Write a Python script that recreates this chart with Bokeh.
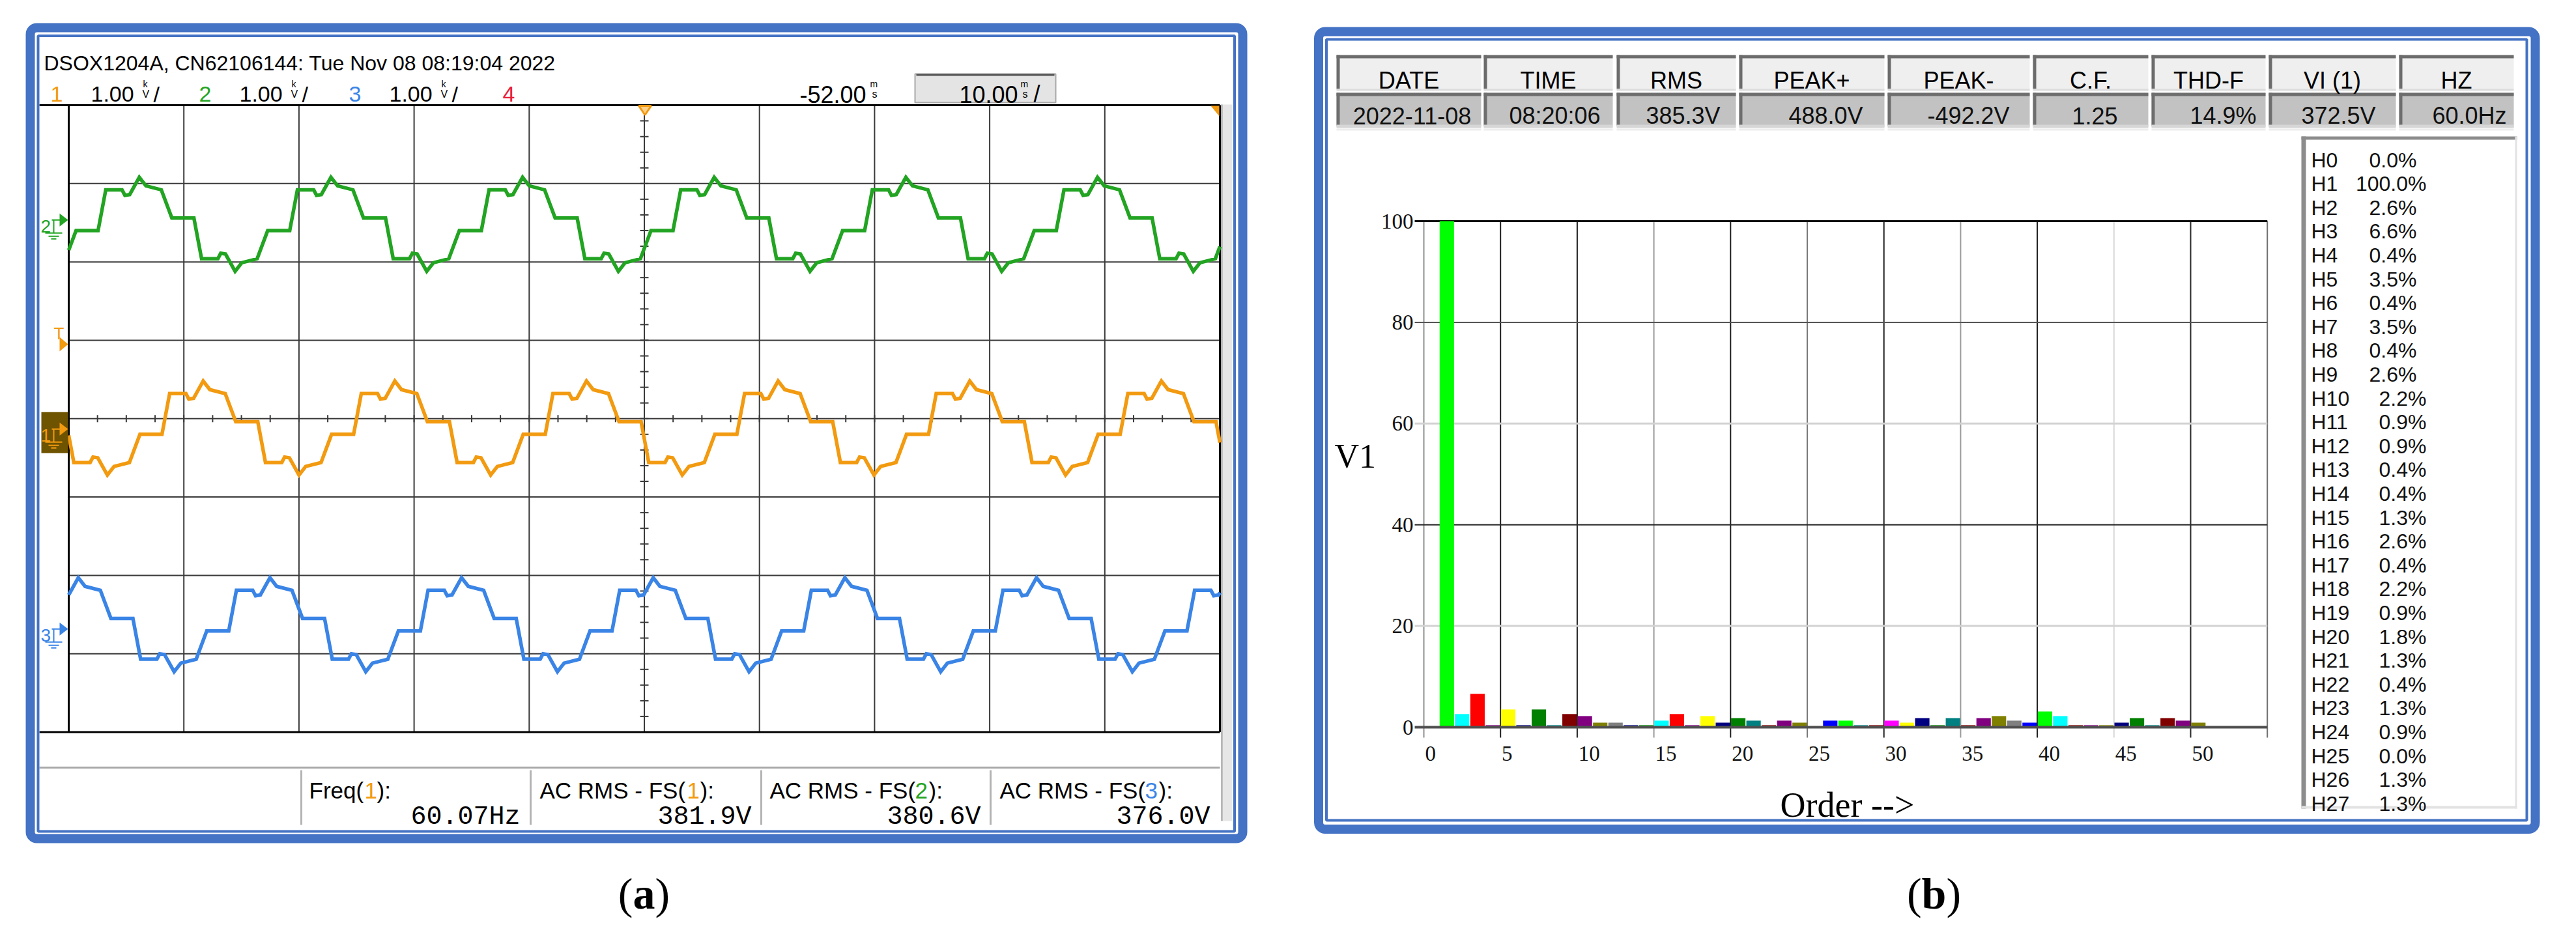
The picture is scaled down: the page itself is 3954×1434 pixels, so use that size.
import numpy as np
from bokeh.plotting import figure
from bokeh.models import Range1d, BoxAnnotation
from bokeh.embed import file_html
from bokeh.resources import INLINE
from bokeh.core.properties import value

# ------------------------------------------------------------------ data (a): oscilloscope
SCOPE_TITLE = "DSOX1204A, CN62106144: Tue Nov 08 08:19:04 2022"
CH_LABELS = ["1", "2", "3", "4"]
CH_SCALES = ["1.00", "1.00", "1.00"]
TIME_DELAY = "-52.00"
TIME_SCALE = "10.00"
MS_PER_DIV = 10.0
MEAS_NAMES = ["Freq(", "AC RMS - FS(", "AC RMS - FS(", "AC RMS - FS("]
MEAS_SRC = ["1", "1", "2", "3"]
MEAS_VALUES = ["60.07Hz", "381.9V", "380.6V", "376.0V"]
FREQ_HZ = 60.07
# one half-cycle of the staircase phase voltage
# (fraction of the period after the rise into the positive plateau, divisions from the trace centre)
HALF_PHASE = [0.000, 0.040, 0.125, 0.140, 0.165, 0.215, 0.250, 0.330, 0.385, 0.495]
HALF_LEVEL = [-0.08, 0.44, 0.44, 0.37, 0.38, 0.60, 0.49, 0.44, 0.08, 0.08]
TRACE_CH = ["2", "1", "3"]
TRACE_RISE_MS = [-99.45, -93.9, -88.1]
TRACE_CENTER_DIV = [2.48, -0.12, -2.63]
GROUND_DIV = [2.535, -0.133, -2.685]

# ------------------------------------------------------------------ data (b): harmonic analyser
TABLE_HEAD = ["DATE", "TIME", "RMS", "PEAK+", "PEAK-", "C.F.", "THD-F", "VI (1)", "HZ"]
TABLE_VALS = ["2022-11-08", "08:20:06", "385.3V", "488.0V", "-492.2V", "1.25", "14.9%", "372.5V", "60.0Hz"]
H_ORDER = list(range(0, 51))
H_PCT = [0.0, 100.0, 2.6, 6.6, 0.4, 3.5, 0.4, 3.5, 0.4, 2.6,
         2.2, 0.9, 0.9, 0.4, 0.4, 1.3, 2.6, 0.4, 2.2, 0.9,
         1.8, 1.3, 0.4, 1.3, 0.9, 0.0, 1.3, 1.3, 0.4, 0.4,
         1.3, 0.9, 1.8, 0.4, 1.8, 0.4, 1.8, 2.2, 1.3, 0.9,
         3.1, 2.2, 0.4, 0.4, 0.4, 0.9, 1.8, 0.4, 1.8, 1.3, 0.9]
H_COLORS = ["#808080", "#00FF00", "#00FFFF", "#FF0000", "#800080", "#FFFF00", "#000080", "#008000", "#008080", "#800000",
            "#800080", "#808000", "#808080", "#000080", "#008000", "#00FFFF", "#FF0000", "#800080", "#FFFF00", "#000080",
            "#008000", "#008080", "#800000", "#800080", "#808000", "#808080", "#0000FF", "#00FF00", "#008080", "#800000",
            "#FF00FF", "#FFFF00", "#000080", "#008000", "#008080", "#800000", "#800080", "#808000", "#808080", "#0000FF",
            "#00FF00", "#00FFFF", "#800000", "#800080", "#808000", "#000080", "#008000", "#008080", "#800000", "#800080",
            "#808000"]
H_LIST_N = 28
X_TICKS = [0, 5, 10, 15, 20, 25, 30, 35, 40, 45, 50]
X_GRID = [0, 5, 10, 15, 20, 25, 30, 35, 40, 45, 50, 55]
Y_TICKS = [0, 20, 40, 60, 80, 100]
Y_LABEL = "V1"
X_LABEL = "Order -->"
CAPTIONS = ["a", "b"]

# ------------------------------------------------------------------ layout (screen pixels)
W, H = 3938, 1418
X0, Y0 = 8, 8
GRID_L, GRID_R, GRID_T, GRID_B = 113.0, 1880.0, 169.0, 1131.5
DIV_X = (GRID_R - GRID_L) / 10.0
DIV_Y = (GRID_B - GRID_T) / 8.0
CY = (GRID_T + GRID_B) / 2.0
T_LEFT = float(TIME_DELAY) - 5 * MS_PER_DIV
BAR_X0, BAR_PX_ORD = 2193.0, 23.54
BAR_Y0, BAR_PX_PCT = 1124.0, 7.77

ORANGE, GREEN, BLUE, RED = "#F29A10", "#22A422", "#3A84E6", "#E8203A"
FRAME = "#4472C4"
SANS = "Liberation Sans"
MONO = "Liberation Mono"
SERIF = "Liberation Serif"


def px2t(x):
    return T_LEFT + (x - GRID_L) / DIV_X * MS_PER_DIV


def py2v(y):
    return (CY - y) / DIV_Y


def px2o(x):
    return (x - BAR_X0) / BAR_PX_ORD


def py2p(y):
    return (BAR_Y0 - y) / BAR_PX_PCT


p = figure(width=W, height=H, output_backend="svg", toolbar_location=None,
           x_range=Range1d(X0, X0 + W), y_range=Range1d(Y0 + H, Y0),
           x_axis_type=None, y_axis_type=None, min_border=0)
p.outline_line_color = None
p.background_fill_color = "white"
p.border_fill_color = "white"
p.extra_x_ranges = {"t": Range1d(px2t(X0), px2t(X0 + W)), "ord": Range1d(px2o(X0), px2o(X0 + W))}
p.extra_y_ranges = {"v": Range1d(py2v(Y0 + H), py2v(Y0)), "pct": Range1d(py2p(Y0 + H), py2p(Y0))}


def txt(x, y, s, size, color="black", font=SANS, align="left", baseline="alphabetic", style="normal", **kw):
    p.text(x=[x], y=[y], text=[s], text_font=value(font), text_font_size=f"{size}px",
           text_color=color, text_align=align, text_baseline=baseline, text_font_style=style, **kw)


def box(l, r, t, b, color):
    p.quad(left=[l], right=[r], top=[t], bottom=[b], fill_color=color, line_color=None)


def hline(x0, x1, y, color, w):
    p.segment(x0=[x0], x1=[x1], y0=[y], y1=[y], line_color=color, line_width=w)


def vline(x, y0, y1, color, w):
    p.segment(x0=[x], x1=[x], y0=[y0], y1=[y1], line_color=color, line_width=w)


# ------------------------------------------------------------------ frames
for (l, r, t, b), (il, ir, it, ib) in [((54, 1915, 50, 1295), (66, 1902.5, 62.5, 1284)),
                                       ((2031.5, 3899, 56, 1280.5), (2043.5, 3886, 68, 1267))]:
    p.add_layout(BoxAnnotation(left=l, right=r, top=t, bottom=b, fill_color=None, fill_alpha=0,
                               line_color=FRAME, line_alpha=1.0, line_width=14, border_radius=10))
    p.add_layout(BoxAnnotation(left=il, right=ir, top=it, bottom=ib, fill_color=None, fill_alpha=0,
                               line_color=FRAME, line_alpha=1.0, line_width=4))

# ------------------------------------------------------------------ (a) header
txt(75, 104, SCOPE_TITLE, 32)
ch_cols = [ORANGE, GREEN, BLUE, RED]
ch_x = [85, 313, 543, 779]
for i, lab in enumerate(CH_LABELS):
    txt(ch_x[i], 152, lab, 34, color=ch_cols[i])
    if i < len(CH_SCALES):
        txt(ch_x[i] + 62, 152, CH_SCALES[i], 34)
        txt(ch_x[i] + 142, 136, "k", 14)
        txt(ch_x[i] + 141, 152, "V", 16)
        txt(ch_x[i] + 158, 152, "/", 34)
txt(1337, 152, TIME_DELAY, 36, align="right")
txt(1343, 136, "m", 14)
txt(1346, 152, "s", 16)
box(1412, 1628, 121, 165, "#E4E4E4")
p.quad(left=[1412], right=[1628], top=[121], bottom=[165], fill_color=None, line_color="#A8A8A8", line_width=2)
hline(1414, 1626, 122.5, "#555555", 3)
txt(1570, 152, TIME_SCALE, 36, align="right")
txt(1574, 136, "m", 14)
txt(1577, 152, "s", 16)
txt(1594, 152, "/", 36)

# ------------------------------------------------------------------ (a) graticule
scroll_l = 1882
box(scroll_l, 1899, 168, 1268, "#E6E6E6")
vline(scroll_l + 1, 168, 1268, "#9C9C9C", 2)
for k in range(1, 10):
    p.segment(x0=[T_LEFT + k * MS_PER_DIV], x1=[T_LEFT + k * MS_PER_DIV], y0=[-4], y1=[4],
              x_range_name="t", y_range_name="v", line_color="#3A3A3A", line_width=2)
for k in range(-3, 4):
    p.segment(x0=[T_LEFT], x1=[T_LEFT + 10 * MS_PER_DIV], y0=[k], y1=[k],
              x_range_name="t", y_range_name="v", line_color="#3A3A3A", line_width=2)
# minor ticks on the centre axes
tc = T_LEFT + 5 * MS_PER_DIV
vt = [-4 + 0.2 * k for k in range(41)]
ht = [T_LEFT + 2.5 * k for k in range(41)]
dx = 6.5 / DIV_X * MS_PER_DIV
dy = 5.5 / DIV_Y
p.segment(x0=[tc - dx] * len(vt), x1=[tc + dx] * len(vt), y0=vt, y1=vt,
          x_range_name="t", y_range_name="v", line_color="#3A3A3A", line_width=2)
p.segment(x0=ht, x1=ht, y0=[-dy] * len(ht), y1=[dy] * len(ht),
          x_range_name="t", y_range_name="v", line_color="#3A3A3A", line_width=2)
# border
hline(68, GRID_R, GRID_T, "black", 3)
hline(68, GRID_R, GRID_B, "black", 3)
vline(GRID_L, GRID_T, GRID_B, "black", 3)
vline(GRID_R, GRID_T, GRID_B, "black", 3)

# ------------------------------------------------------------------ (a) traces
period = 1000.0 / FREQ_HZ
cyc_ph = HALF_PHASE + [0.5 + q for q in HALF_PHASE]
cyc_lv = HALF_LEVEL + [-l for l in HALF_LEVEL]
t_lo, t_hi = T_LEFT, T_LEFT + 10 * MS_PER_DIV
tr_cols = {"1": ORANGE, "2": GREEN, "3": BLUE}
for ch, rise, cen in zip(TRACE_CH, TRACE_RISE_MS, TRACE_CENTER_DIV):
    k0 = int(np.floor((t_lo - rise) / period)) - 1
    k1 = int(np.ceil((t_hi - rise) / period)) + 1
    ts, vs = [], []
    for k in range(k0, k1 + 1):
        for ph, lv in zip(cyc_ph, cyc_lv):
            ts.append(rise + (k + ph) * period)
            vs.append(cen + lv)
    ts = np.array(ts)
    vs = np.array(vs)
    inside = (ts > t_lo) & (ts < t_hi)
    tt = np.concatenate([[t_lo], ts[inside], [t_hi]])
    vv = np.interp(tt, ts, vs)
    p.line(tt, vv, x_range_name="t", y_range_name="v", line_color=tr_cols[ch], line_width=5.5,
           line_join="miter")

# ------------------------------------------------------------------ (a) channel markers
for ch, gdiv in zip(TRACE_CH, GROUND_DIV):
    gy = CY - gdiv * DIV_Y
    col = tr_cols[ch]
    if ch == "1":
        box(71, 112, gy - 26, gy + 37, "#6E5300")
    txt(70, gy + 10, ch, 28, color=col)
    p.patch(x=[99, 112, 99], y=[gy - 10, gy, gy + 10], fill_color=col, line_color=None)
    hline(87, 100, gy, col, 2)
    vline(90, gy, gy + 20, col, 2)
    hline(77, 103, gy + 20, col, 2)
    hline(82, 98, gy + 25, col, 2)
    hline(86, 94, gy + 29, col, 2)
txt(90, 519, "T", 26, color=ORANGE)
p.patch(x=[99, 112, 99], y=[525, 536, 547], fill_color=ORANGE, line_color=None)
p.patch(x=[988, 1007, 997.5], y=[170, 170, 184], fill_color="#FFD08A", line_color=ORANGE, line_width=3)
p.patch(x=[1866, 1879, 1879], y=[170, 170, 186], fill_color=ORANGE, line_color=None)

# ------------------------------------------------------------------ (a) measurements
hline(68, GRID_R, 1186, "#A8A8A8", 3)
for sx in [470, 822, 1176, 1528]:
    vline(sx, 1190, 1274, "#B4B4B4", 3)
name_x = [482, 836, 1189, 1542]
src_x = [567, 1062, 1412, 1765]
close_x = [586, 1082, 1433, 1786]
val_r = [806, 1161, 1513, 1865]
src_cols = {"1": ORANGE, "2": GREEN, "3": BLUE}
for i in range(4):
    txt(name_x[i], 1221, MEAS_NAMES[i], 35)
    txt(src_x[i], 1221, MEAS_SRC[i], 35, color=src_cols[MEAS_SRC[i]])
    txt(close_x[i], 1221, "):", 35)
    txt(val_r[i], 1262, MEAS_VALUES[i], 40, font=MONO, align="right")

# ------------------------------------------------------------------ (b) table
COL_L = [2059, 2285, 2489, 2677, 2905, 3128, 3310, 3490, 3690]
COL_R = [2281, 2483, 2672, 2900, 3123, 3305, 3485, 3685, 3866]
VAL_CX = [2175, 2394, 2591, 2810, 3029, 3223, 3420, 3597, 3798]
for i in range(len(TABLE_HEAD)):
    l, r = COL_L[i], COL_R[i]
    box(l, r, 92, 146, "#EFEFEF")
    box(l, r, 92, 97, "#6C6C6C")
    box(l, l + 5, 92, 144, "#6C6C6C")
    box(l, r, 144, 147, "#DDDDDD")
    box(l, r, 150, 202, "#C2C2C2")
    box(l, r, 150, 155, "#6E6E6E")
    box(l, l + 5, 150, 200, "#6E6E6E")
    box(l, r, 199, 204, "#D6D6D6")
    box(l, r, 205, 208, "#EDEDED")
    txt((l + r) / 2, 131, TABLE_HEAD[i], 36, align="center")
    txt(VAL_CX[i], 185, TABLE_VALS[i], 36, align="center", color="#111111")

# ------------------------------------------------------------------ (b) harmonic list
box(3540, 3871, 217, 1249, "white")
box(3540, 3547, 217, 1249, "#8C8C8C")
box(3540, 3871, 217, 222, "#8C8C8C")
box(3540, 3871, 1245, 1249, "#E2E2E2")
box(3868, 3871, 217, 1249, "#E2E2E2")
for i in range(H_LIST_N):
    yb = 253 + i * 36.6
    txt(3555, yb, f"H{H_ORDER[i]}", 32, color="#111111")
    xr = 3717 if (i < 10 and i != 1) else 3732
    txt(xr, yb, f"{H_PCT[i]:.1f}%", 32, align="right", color="#111111")

# ------------------------------------------------------------------ (b) bar chart
HG_STYLE = {0: ("#505050", 4), 20: ("#D2D2D2", 3), 40: ("#2A2A2A", 2),
            60: ("#D2D2D2", 3), 80: ("#555555", 2), 100: ("#111111", 3)}
VG_COL = ["#909090", "#1E1E1E", "#1E1E1E", "#9A9A9A", "#1E1E1E", "#7A7A7A",
          "#1E1E1E", "#9A9A9A", "#1E1E1E", "#D8D8D8", "#2A2A2A", "#707070"]
tick_below = py2p(1140)
tick_left = px2o(2179)
for xg, c in zip(X_GRID, VG_COL):
    p.segment(x0=[xg], x1=[xg], y0=[tick_below], y1=[Y_TICKS[-1]], x_range_name="ord", y_range_name="pct",
              line_color=c, line_width=2)
for yg in Y_TICKS[1:]:
    c, w = HG_STYLE[yg]
    p.segment(x0=[tick_left], x1=[X_GRID[-1]], y0=[yg], y1=[yg], x_range_name="ord", y_range_name="pct",
              line_color=c, line_width=w)
p.vbar(x=[n + 0.5 for n in H_ORDER], width=0.94, top=H_PCT, bottom=0, fill_color=H_COLORS,
       line_color=None, x_range_name="ord", y_range_name="pct")
c, w = HG_STYLE[0]
p.segment(x0=[tick_left], x1=[X_GRID[-1]], y0=[0], y1=[0], x_range_name="ord", y_range_name="pct",
          line_color=c, line_width=w)
p.text(x=[2177] * len(Y_TICKS), y=Y_TICKS, text=[str(v) for v in Y_TICKS], y_range_name="pct",
       text_font=value(SERIF), text_font_size="33px", text_align="right", text_baseline="middle",
       text_color="#111111")
p.text(x=[v + 0.08 for v in X_TICKS], y=[py2p(1164)] * len(X_TICKS), text=[str(v) for v in X_TICKS],
       x_range_name="ord", y_range_name="pct", text_font=value(SERIF), text_font_size="33px",
       text_align="left", text_baseline="alphabetic", text_color="#111111")
txt(2056, 708, Y_LABEL, 52, font=SERIF, baseline="middle")
txt(2843, 1243, X_LABEL, 54, font=SERIF, align="center")

# ------------------------------------------------------------------ captions
cap_size = 68
cap_base = 1379
for cx, lab in zip([996, 2976], CAPTIONS):
    wl = 0.556 * cap_size if lab == "b" else 0.5 * cap_size
    wp = 0.333 * cap_size
    left = cx - (2 * wp + wl) / 2
    txt(left, cap_base, "(", cap_size, font=SERIF)
    txt(left + wp, cap_base, lab, cap_size, font=SERIF, style="bold")
    txt(left + wp + wl, cap_base, ")", cap_size, font=SERIF)

open("out.html", "w").write(file_html(p, INLINE))
